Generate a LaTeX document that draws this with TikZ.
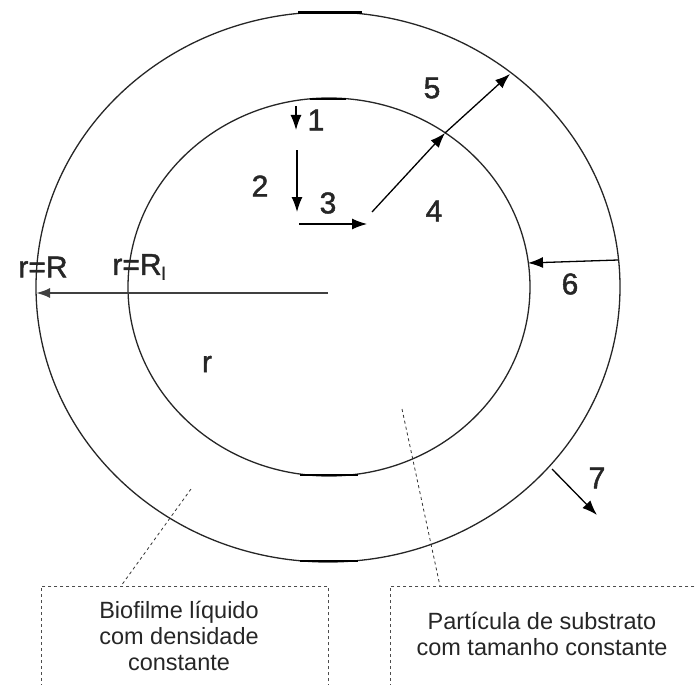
\documentclass[tikz,border=0pt]{standalone}
\usepackage{fontspec}
\setmainfont{Liberation Sans}
\newfontfamily\labfont[FakeBold=1.5]{Liberation Sans}
\usetikzlibrary{arrows.meta}
\begin{document}
\begin{tikzpicture}[x=1pt,y=-1pt,
  circ/.style={line width=1.3pt,draw=black!85},
  flux/.style={line width=1.3pt,-{Latex[length=15pt,width=11pt]}},
  num/.style={font=\labfont\fontsize{30}{30}\selectfont,inner sep=0pt,text=black!85},
  lead/.style={dashed,line width=0.8pt,draw=black!80},
  box/.style={dashed,line width=0.8pt,draw=black!70},
  boxtext/.style={font=\fontsize{23.5}{26}\selectfont,align=center,text=black!85}]
\useasboundingbox (0,0) rectangle (697,685);
\begin{scope}
\clip (0,0) rectangle (697,685);
% circles
\draw[circ] (328,287) ellipse [x radius=292, y radius=275];
\draw[circ] (329,287) ellipse [x radius=201, y radius=189];
\draw[line width=3pt] (298,13) -- (362,13);
\draw[line width=2pt] (310,99) -- (346,99);
\draw[line width=2pt] (300,475) -- (358,475);
\draw[line width=2pt] (300,561) -- (358,561);
% coordinates
\coordinate (c) at (328,293);
\coordinate (rR) at (36,293);
\coordinate (a1s) at (296,106); \coordinate (a1e) at (296,130);
\coordinate (a2s) at (297,150); \coordinate (a2e) at (297,212);
\coordinate (a3s) at (299,224); \coordinate (a3e) at (367,224);
\coordinate (a4s) at (372,212); \coordinate (a4e) at (445,133);
\coordinate (a5e) at (510,74);
\coordinate (a6s) at (618,260); \coordinate (a6e) at (528,263);
\coordinate (a7s) at (552,469); \coordinate (a7e) at (597,515);
% radius arrow
\draw[line width=2.2pt,draw=black!75,-{Latex[length=14pt,width=10pt]}] (c) -- (rR);
% flux arrows
\draw[flux] (a1s) -- (a1e);
\draw[flux] (a2s) -- (a2e);
\draw[flux] (a3s) -- (a3e);
\draw[flux] (a4s) -- (a4e);
\draw[flux] (a4e) -- (a5e);
\draw[flux] (a6s) -- (a6e);
\draw[flux] (a7s) -- (a7e);
% labels
\node[num] (l1) at (316,120) {1};
\node[num] (l2) at (260,186) {2};
\node[num] (l3) at (328,203) {3};
\node[num] (l4) at (434,211) {4};
\node[num] (l5) at (432,88) {5};
\node[num] (l6) at (570,284) {6};
\node[num] (l7) at (597,478) {7};
\node[num] (lr) at (207,364) {r};
\node[num] (lR) at (43,267) {r=R};
\node[num] (lRi) at (139,267) {r=R\raisebox{-5pt}{\fontsize{18}{18}\selectfont l}};
% boxes
\node[box,minimum width=287pt,minimum height=120pt,anchor=north west] (b1) at (41,586) {};
\node[box,minimum width=320pt,minimum height=120pt,anchor=north west] (b2) at (390,586) {};
\node[boxtext] (t1) at (179,636) {Biofilme líquido\\com densidade\\constante};
\node[boxtext] (t2) at (542,634) {Partícula de substrato\\com tamanho constante};
\coordinate (d1) at (191,489);
\coordinate (d2) at (402,409);
\draw[lead] (d1) -- (b1.north -| 121,0);
\draw[lead] (d2) -- (b2.north -| 440,0);
\end{scope}
\end{tikzpicture}
\end{document}
